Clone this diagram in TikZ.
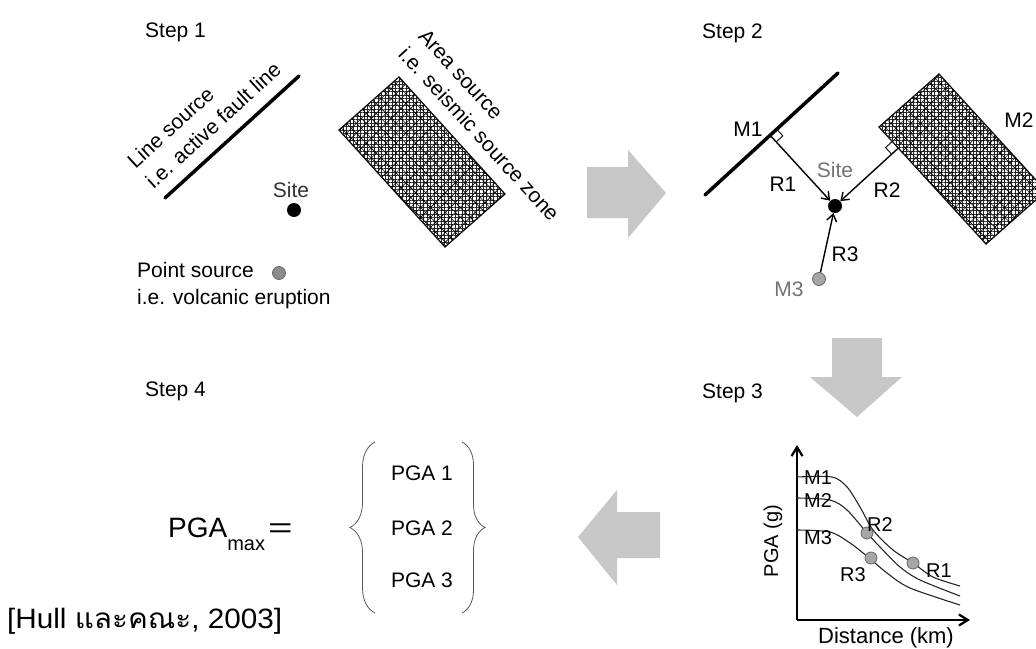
\documentclass[tikz,border=0pt]{standalone}
\usepackage{fontspec}
\setmainfont{Liberation Sans}
\newfontfamily\thaifont[Script=Thai]{Loma}
\usetikzlibrary{arrows.meta,calc,patterns.meta,decorations.pathreplacing}

\begin{document}
\begin{tikzpicture}[
    x=1pt, y=-1pt,
    txt/.style={font=\fontsize{21}{27}\selectfont, inner sep=0pt},
    steplbl/.style={txt, anchor=west},
    lbl/.style={font=\fontsize{20}{24}\selectfont, inner sep=0pt},
    fault/.style={line width=3.5pt, line cap=round},
    zone/.style={draw=black, line width=1.2pt,
        postaction={pattern={Hatch[distance=3.5pt, line width=0.45pt]}, pattern color=black!85},
        postaction={pattern={Hatch[angle=45, distance=7pt, line width=0.6pt]}, pattern color=black}},
    sitedot/.style={circle, fill=black, minimum size=14pt, inner sep=0pt},
    srcdot/.style={circle, fill=black!35, draw=black!60, line width=0.8pt, minimum size=13pt, inner sep=0pt},
    rarrow/.style={-{Straight Barb[length=7pt,width=10pt]}, line width=1.4pt},
    rightangle/.style={line width=0.9pt},
    bigarrow/.style={fill=black!22},
    axis/.style={-{Straight Barb[length=9pt,width=11pt]}, line width=2.2pt},
    curve/.style={line width=1.1pt, black!85},
    gdot/.style={circle, fill=black!35, draw=black!60, line width=0.8pt, minimum size=12pt, inner sep=0pt},
    brc/.style={decorate, line width=0.8pt, black!65},
]
\clip (0,0) rectangle (1036,648);

% Step labels
\node[steplbl] (step1) at (145,32) {Step 1};
\node[steplbl] (step2) at (702,33) {Step 2};
\node[steplbl] (step3) at (702,393) {Step 3};
\node[steplbl] (step4) at (145,391) {Step 4};

% Step 1: sources and site
\coordinate (la) at (165,198);
\coordinate (lb) at (299,76);
\draw[fault] (la) -- (lb);
\node[txt, rotate=42.5, align=left] (linesrc) at (204,115) {Line source\\i.e. active fault line};

\coordinate (aT) at (399,77);
\coordinate (aR) at (505,194);
\coordinate (aB) at (445,247);
\coordinate (aL) at (339,130);
\draw[zone] (aT) -- (aR) -- (aB) -- (aL) -- cycle;
\node[txt, rotate=-47.5, align=left] (areasrc) at (489,125) {Area source\\i.e. seismic source zone};

\node[txt, text=black!80] (site1lbl) at (291,190) {Site};
\node[sitedot] (site1) at (294,210) {};
\node[txt, align=left, anchor=west] (pointsrc) at (137,286) {Point source\\i.e. volcanic eruption};
\node[srcdot, fill=black!45] (ptdot) at (279,273) {};

% Step 1 -> Step 2
\fill[bigarrow] (587,167) -- (628,167) -- (628,150) -- (666,193) -- (628,238) -- (628,218) -- (587,218) -- cycle;

% Step 2: source-to-site distances
\coordinate (fA) at (705,195);
\coordinate (fB) at (838,73);
\draw[fault] (fA) -- (fB);

\coordinate (zT) at (939,74);
\coordinate (zR) at (1046,191);
\coordinate (zB) at (986,244);
\coordinate (zL) at (879,127);
\draw[zone] (zT) -- (zR) -- (zB) -- (zL) -- cycle;

\node[sitedot] (site2) at (835,206) {};
\node[txt, text=black!55] (site2lbl) at (835,170) {Site};
\node[srcdot] (m3dot) at (819,279) {};

\coordinate (foot1) at ($(fA)!(site2)!(fB)$);
\coordinate (foot2) at ($(zL)!(site2)!(zB)$);
\draw[rarrow] (foot1) -- (site2);
\draw[rarrow] (foot2) -- (site2);
\draw[rarrow] (m3dot) -- (site2);

% right angle marks
\coordinate (u1) at ($(foot1)!9pt!(fB)$);
\coordinate (v1) at ($(foot1)!9pt!(site2)$);
\draw[rightangle] (u1) -- ($(u1)+(v1)-(foot1)$) -- (v1);
\coordinate (u2) at ($(foot2)!9pt!(zL)$);
\coordinate (v2) at ($(foot2)!9pt!(site2)$);
\draw[rightangle] (u2) -- ($(u2)+(v2)-(foot2)$) -- (v2);

\node[txt] (m1lbl) at (748,129) {M1};
\node[txt] (m2lbl) at (1019,120) {M2};
\node[txt, text=black!55] (m3lbl) at (789,289) {M3};
\node[txt] (r1lbl) at (783,184) {R1};
\node[txt] (r2lbl) at (887,190) {R2};
\node[txt] (r3lbl) at (845,254) {R3};

% Step 2 -> Step 3
\fill[bigarrow] (832,338) -- (882,338) -- (882,377) -- (902,377) -- (857,417) -- (810,377) -- (832,377) -- cycle;

% Step 3: attenuation curves
\coordinate (gO) at (797,620);
\coordinate (gY) at (797,445);
\coordinate (gX) at (970,620);
\draw[axis] (gO) -- (gY);
\draw[axis] (gO) -- (gX);

\draw[curve] plot[smooth] coordinates {(797,477) (832,477) (847,487) (860,507) (873,530) (893,550) (913,563) (933,577) (960,586)};
\draw[curve] plot[smooth] coordinates {(797,498) (830,500) (847,510) (867,533) (880,547) (900,567) (920,580) (960,596)};
\draw[curve] plot[smooth] coordinates {(797,530) (830,532) (850,543) (868,557) (887,573) (910,588) (960,605)};

\node[gdot] (g2) at (867,533) {};
\node[gdot] (g3) at (871,558) {};
\node[gdot] (g1) at (913,563) {};

\node[lbl] (gm1) at (818,478) {M1};
\node[lbl] (gm2) at (818,501) {M2};
\node[lbl] (gm3) at (818,538) {M3};
\node[lbl] (gr2) at (880,525) {R2};
\node[lbl] (gr1) at (939,571) {R1};
\node[lbl] (gr3) at (853,575) {R3};
\node[lbl, rotate=90] (ylbl) at (773,541) {PGA (g)};
\node[txt, font=\fontsize{22}{26}\selectfont] (xlbl) at (886,638) {Distance (km)};

% Step 3 -> Step 4
\fill[bigarrow] (660,512) -- (617,512) -- (617,490) -- (578,537) -- (617,585) -- (617,558) -- (660,558) -- cycle;

% Step 4: maximum PGA
\node[anchor=base west, inner sep=0pt] (pgamax) at (168,537) {\fontsize{28}{30}\selectfont PGA\raisebox{-13pt}{\fontsize{20}{22}\selectfont max}\hspace{3pt}\scalebox{1.5}[1]{=}};
\draw[brc, decoration={brace, amplitude=25pt}] (375,613) -- (375,442);
\draw[brc, decoration={brace, amplitude=23pt}] (462,442) -- (462,613);
\node[txt] (pga1) at (422,473) {PGA 1};
\node[txt] (pga2) at (422,528) {PGA 2};
\node[txt] (pga3) at (422,580) {PGA 3};

\node[anchor=base west, inner sep=0pt, font=\fontsize{28}{30}\selectfont] (ref) at (7,628) {\scalebox{1.06}[1]{[Hull {\thaifont และคณะ}, 2003]}};

\end{tikzpicture}
\end{document}
